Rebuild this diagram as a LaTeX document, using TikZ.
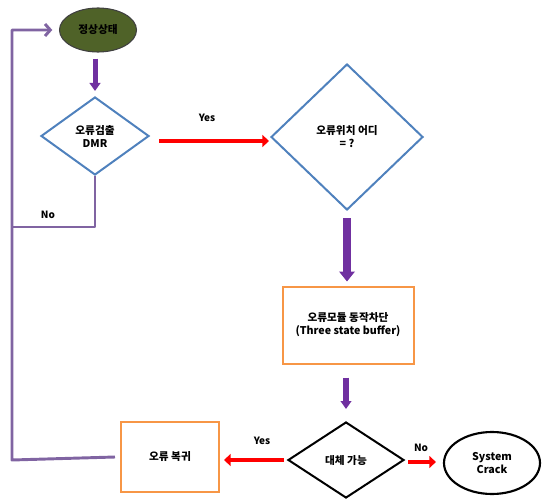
\documentclass[tikz,border=0pt]{standalone}
\usepackage{fontspec}
\setmainfont{Noto Sans CJK KR}
\usetikzlibrary{shapes.geometric,arrows.meta,calc}
\definecolor{pur}{HTML}{7030A0}
\definecolor{lpur}{HTML}{8064A2}
\definecolor{dblue}{HTML}{4F81BD}
\definecolor{orng}{HTML}{F79646}
\definecolor{olive}{HTML}{4F6228}
\begin{document}
\begin{tikzpicture}[x=0.75pt,y=-0.75pt,
  every node/.style={font=\fontsize{8}{9.75}\selectfont\bfseries, align=center, inner sep=0pt},
  dia/.style={diamond, draw=dblue, line width=1.5pt},
  box/.style={rectangle, draw=orng, line width=1.5pt},
  purarrow/.style={draw=pur, line width=4pt, -{Triangle[length=6pt,width=8pt]}},
  redarrow/.style={draw=red, line width=3.5pt, -{Triangle[length=5pt,width=9pt]}},
  loopline/.style={draw=lpur, line width=2.2pt, line join=round},
  lbl/.style={font=\fontsize{7.5}{9}\selectfont\bfseries}]
\path[use as bounding box] (0,0) rectangle (542,499);

% nodes
\node[ellipse, draw=black!75, fill=olive, line width=0.8pt, minimum width=57.75pt, minimum height=33pt] (ready) at (98,30) {정상상태};
\node[dia, minimum width=81pt, minimum height=58.5pt] (det) at (95,136) {오류검출\\DMR};
\node[dia, minimum width=114pt, minimum height=109.5pt] (loc) at (347,137) {오류위치 어디\\= ?};
\node[box, minimum width=98.25pt, minimum height=57.75pt] (cut) at (348,325) {오류모듈 동작차단\\(Three state buffer)};
\node[diamond, draw=black, line width=1.5pt, minimum width=87pt, minimum height=57pt] (sub) at (346,460) {대체 가능};
\node[box, minimum width=73.5pt, minimum height=52.5pt] (rec) at (170,457) {오류 복귀};
\node[ellipse, draw=black, line width=1.6pt, minimum width=72pt, minimum height=46.5pt] (crack) at (492,463) {System\\Crack};

% labels
\node[lbl] (yes1) at (207,118) {Yes};
\node[lbl] (no1) at (48,215) {No};
\node[lbl] (yes2) at (262,441) {Yes};
\node[lbl] (no2) at (421,448) {No};

% loop coordinates
\coordinate (lb) at (12,460);
\coordinate (lt) at (12,30);
\coordinate (lm) at (12,227);

% connectors
\draw[purarrow, line width=3.75pt, shorten <=4.5pt, shorten >=3.75pt] (det.north |- ready.south) -- (det.north);
\draw[redarrow, shorten <=6.75pt, shorten >=0.75pt] ($(det.east)+(0,5)$) -- ($(det.east -| loc.west)+(0,5)$);
\draw[purarrow, line width=6pt, -{Triangle[length=7.5pt,width=11.5pt]}, shorten <=5.25pt, shorten >=3pt] (loc.south) -- (loc.south |- cut.north);
\draw[purarrow, line width=4.25pt, shorten <=9.75pt, shorten >=9pt] (cut.south -| sub.north) -- (sub.north);
\draw[redarrow, line width=3pt, shorten <=2.25pt, shorten >=3pt] (sub.west) -- (sub.west -| rec.east);
\draw[redarrow, line width=3pt, shorten <=2.25pt, shorten >=5.25pt] ($(sub.east)+(0,2)$) -- ($(crack.west)+(0,-1)$);
\draw[loopline] (det.south) -- (det.south |- lm) -- (lm);
\draw[loopline, -{Straight Barb[length=4pt,width=9pt]}, shorten >=5pt] ($(rec.west)+(-5,0)$) -- (lb) -- (lt) -- (ready.west);
\end{tikzpicture}
\end{document}
